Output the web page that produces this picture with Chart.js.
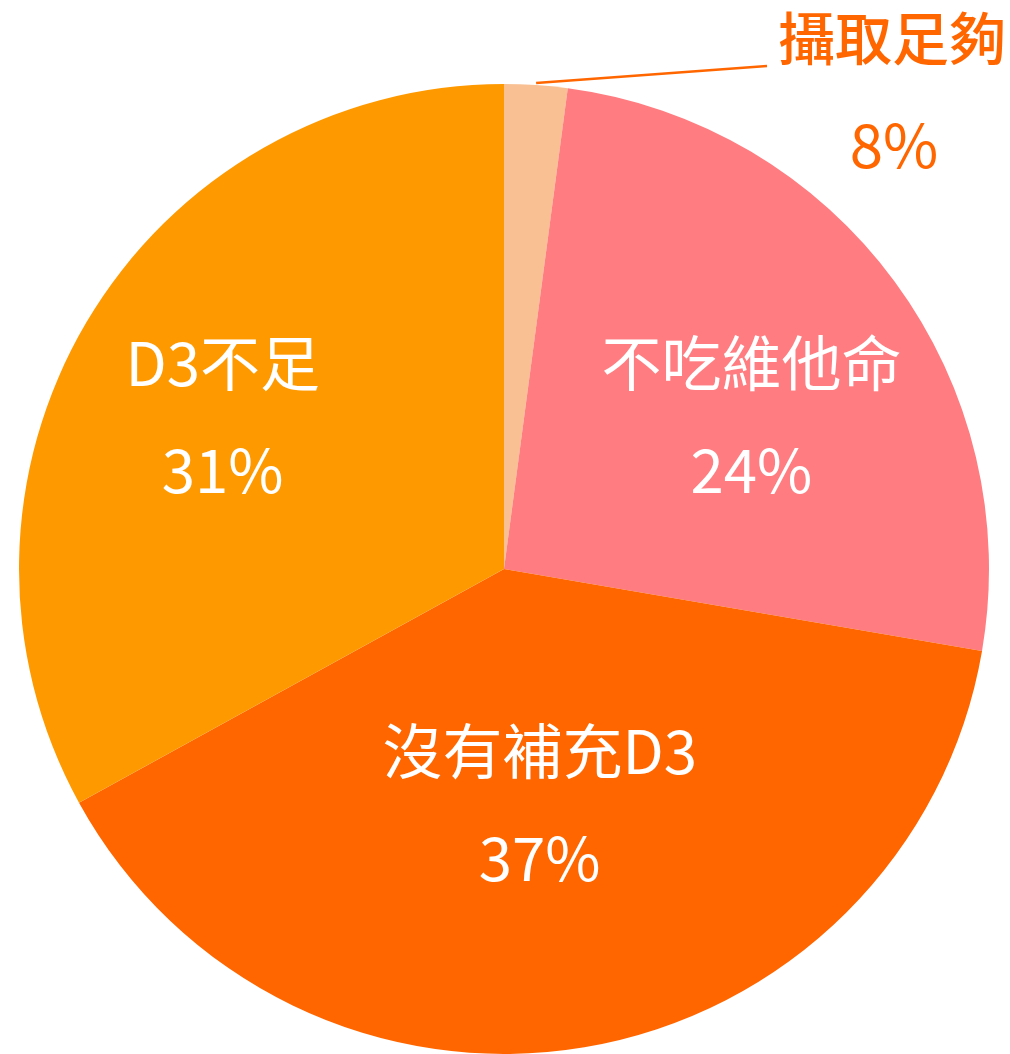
<!DOCTYPE html>
<html>
<head>
<meta charset="utf-8">
<script src="https://cdn.jsdelivr.net/npm/chart.js@4/dist/chart.umd.min.js"></script>
<style>
  html, body { margin: 0; padding: 0; background: #fff; }
  #wrap { width: 1010px; height: 1054px; }
</style>
</head>
<body>
<div id="wrap"><canvas id="pieChart"></canvas></div>
<script>
// slices start at 12 o'clock and go clockwise
const categories = ["攝取足夠", "不吃維他命", "沒有補充D3", "D3不足"];
const shares = [2.1, 25.6, 39.3, 33.0];          // sizes as drawn
const shareLabels = ["8%", "24%", "37%", "31%"];  // percentages as printed
const colors = ["#F9C193", "#FF7C80", "#FF6600", "#FF9900"];

const FONT = '"Noto Sans CJK TC", "Noto Sans CJK SC", sans-serif';

// where each label sits: angle shift (deg) from slice middle and radius fraction
const labelPlace = [
    null,
    { shift: 4.6, f: 0.60 },
    { shift: 0.9, f: 0.49 },
    { shift: -2.1, f: 0.66 }
];

const sliceLabels = {
    id: 'sliceLabels',
    afterDatasetsDraw(chart) {
        const ctx = chart.ctx;
        const arcs = chart.getDatasetMeta(0).data;
        ctx.save();
        ctx.textAlign = 'center';
        ctx.textBaseline = 'middle';

        arcs.forEach((arc, i) => {
            const mid = (arc.startAngle + arc.endAngle) / 2;
            if (labelPlace[i]) {
                const a = mid + labelPlace[i].shift * Math.PI / 180;
                const r = arc.outerRadius * labelPlace[i].f;
                const x = arc.x + Math.cos(a) * r;
                const y = arc.y + Math.sin(a) * r;
                ctx.font = '60px ' + FONT;
                ctx.fillStyle = '#ffffff';
                ctx.fillText(categories[i], x, y - 53);
                ctx.fillText(shareLabels[i], x, y + 54);
            } else {
                // small slice: leader line out to a label outside the pie
                const r = arc.outerRadius + 2;
                const x0 = arc.x + Math.cos(mid) * r;
                const y0 = arc.y + Math.sin(mid) * r;
                const x1 = arc.x + 263;
                const y1 = arc.y - 503;
                ctx.strokeStyle = '#FF6600';
                ctx.lineWidth = 2.5;
                ctx.beginPath();
                ctx.moveTo(x0, y0);
                ctx.lineTo(x1, y1);
                ctx.stroke();
                ctx.fillStyle = '#FF6600';
                ctx.font = '500 57px ' + FONT;
                ctx.fillText(categories[i], arc.x + 388, arc.y - 531);
                ctx.font = '60px ' + FONT;
                ctx.fillText(shareLabels[i], arc.x + 390, arc.y - 424);
            }
        });
        ctx.restore();
    }
};

new Chart(document.getElementById('pieChart'), {
    type: 'pie',
    data: {
        labels: categories,
        datasets: [{
            data: shares,
            backgroundColor: colors,
            borderWidth: 0,
            hoverOffset: 0
        }]
    },
    options: {
        responsive: true,
        maintainAspectRatio: false,
        animation: false,
        layout: { padding: { left: 19, right: 21, top: 84, bottom: 0 } },
        plugins: {
            legend: { display: false },
            tooltip: { enabled: false }
        }
    },
    plugins: [sliceLabels]
});
</script>
</body>
</html>
